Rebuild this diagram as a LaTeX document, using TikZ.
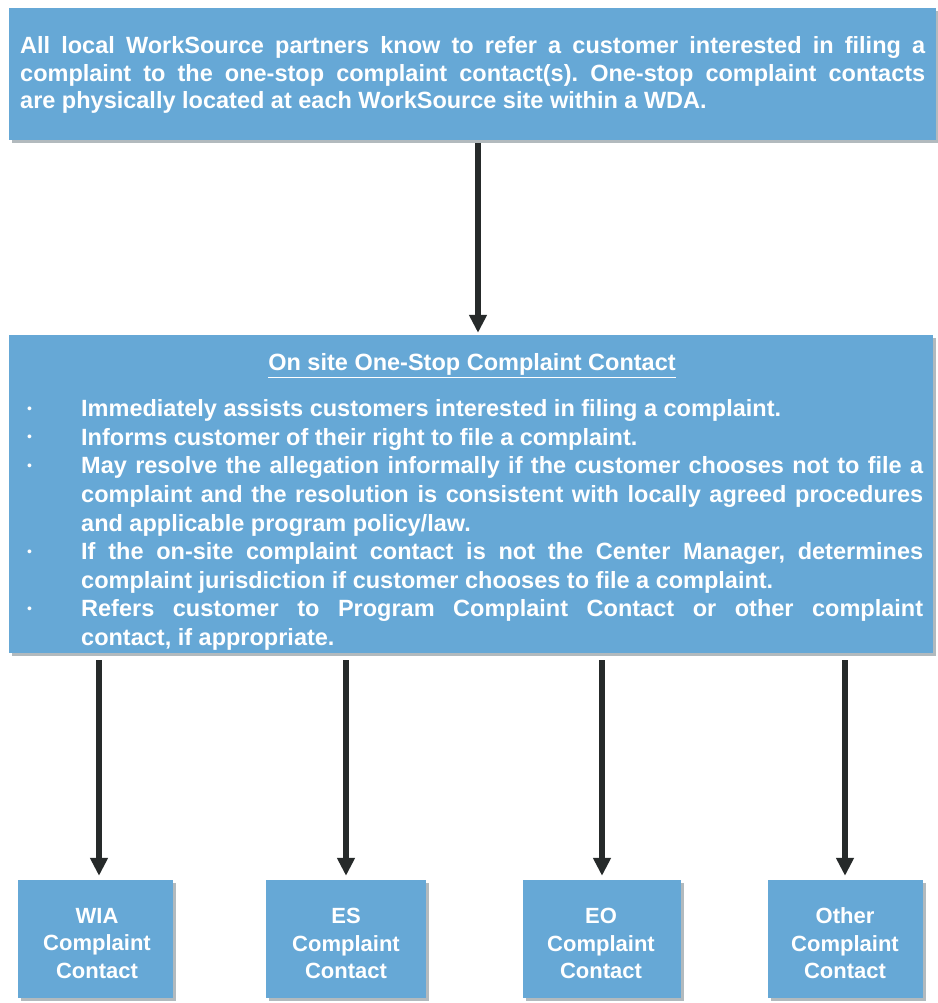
\documentclass[tikz,border=0pt]{standalone}
\usepackage{fontspec}
\setmainfont{Liberation Sans}
\usetikzlibrary{arrows.meta,shadows}
\definecolor{boxblue}{RGB}{102,168,214}
\definecolor{arrowgray}{RGB}{38,42,42}
\definecolor{shadowgray}{RGB}{178,186,190}
\newcommand{\mybul}{\hangindent=54pt\hangafter=1\makebox[54pt][l]{\raisebox{3.5pt}{\normalfont\fontsize{14}{14}\selectfont\textbullet}}}
\begin{document}
\begin{tikzpicture}[x=1pt,y=-1pt,
  bluebox/.style={fill=boxblue, draw=none, inner sep=0pt,
    drop shadow={shadow xshift=3pt, shadow yshift=-3pt, fill=shadowgray, opacity=1}},
  boxtext/.style={text=white, font=\bfseries\fontsize{23.5}{27.5}\selectfont\frenchspacing, inner sep=0pt},
  listtext/.style={text=white, font=\bfseries\fontsize{23.5}{28.6}\selectfont\frenchspacing, inner sep=0pt},
  smalltext/.style={text=white, font=\bfseries\fontsize{22}{27.5}\selectfont, inner sep=0pt, align=center},
  arr/.style={draw=arrowgray, line width=6pt, -{Triangle[length=18pt,width=17pt]}}
]
\useasboundingbox (0,0) rectangle (937,1003);
\fill[white] (0,0) rectangle (937,1003);

% top box
\node[bluebox, minimum width=927pt, minimum height=132pt] (top) at (472,74) {};
\node[boxtext, text width=905pt, align=justify, anchor=north west] (toptext) at (20,36.5)
 {All local WorkSource partners know to refer a customer interested in filing a\linebreak
  complaint to the one-stop complaint contact(s). One-stop complaint contacts\linebreak
  are physically located at each WorkSource site within a WDA.};

% middle box
\node[bluebox, minimum width=924pt, minimum height=318pt] (mid) at (471,494) {};
\node[boxtext] (title) at (472,365.5) {\underline{On site One-Stop Complaint Contact}};
\node[listtext, text width=896pt, align=justify, anchor=north west] (list) at (27,399.5)
 {\mybul Immediately assists customers interested in filing a complaint.\par
  \mybul Informs customer of their right to file a complaint.\par
  \mybul May resolve the allegation informally if the customer chooses not to file a\linebreak
  complaint and the resolution is consistent with locally agreed procedures\linebreak
  and applicable program policy/law.\par
  \mybul If the on-site complaint contact is not the Center Manager, determines\linebreak
  complaint jurisdiction if customer chooses to file a complaint.\par
  \mybul Refers customer to Program Complaint Contact or other complaint\linebreak
  contact, if appropriate.\par};

% bottom boxes
\node[bluebox, minimum width=155pt, minimum height=118pt] (wia) at (95,939) {};
\node[bluebox, minimum width=160pt, minimum height=118pt] (es) at (346,939) {};
\node[bluebox, minimum width=158pt, minimum height=118pt] (eo) at (602,939) {};
\node[bluebox, minimum width=155pt, minimum height=118pt] (oth) at (845,939) {};
\node[smalltext] (wiat) at (97,943.5) {WIA\\Complaint\\Contact};
\node[smalltext] (est) at (346,943.5) {ES\\Complaint\\Contact};
\node[smalltext] (eot) at (601,943.5) {EO\\Complaint\\Contact};
\node[smalltext] (otht) at (845,943.5) {Other\\Complaint\\Contact};

% arrows
\draw[arr, shorten <=3pt, shorten >=2pt] ([xshift=6pt]top.south) -- ([xshift=7pt]mid.north);
\draw[arr, shorten <=7pt, shorten >=4pt] ([xshift=4pt]mid.south -| wia.north) -- ([xshift=4pt]wia.north);
\draw[arr, shorten <=7pt, shorten >=4pt] (mid.south -| es.north) -- (es.north);
\draw[arr, shorten <=7pt, shorten >=4pt] (mid.south -| eo.north) -- (eo.north);
\draw[arr, shorten <=7pt, shorten >=4pt] (mid.south -| oth.north) -- (oth.north);
\end{tikzpicture}
\end{document}
